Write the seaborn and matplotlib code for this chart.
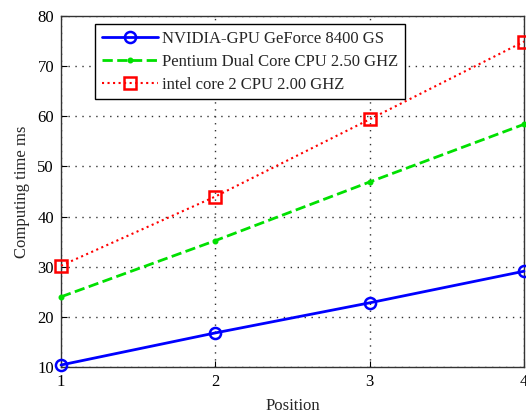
import pandas as pd
import seaborn as sns
import matplotlib.pyplot as plt

# valores
posicion = [1, 2, 3, 4]
gpu_nvidia = [10.4, 16.8, 22.8, 29.1]
pentium_dual = [24.0, 35.2, 46.9, 58.4]
intel_core2 = [30.2, 44.0, 59.4, 74.9]

etiquetas = [
    "NVIDIA-GPU GeForce 8400 GS",
    "Pentium Dual Core CPU 2.50 GHZ",
    "intel core 2 CPU 2.00 GHZ",
]

df = pd.DataFrame({
    "Position": posicion * 3,
    "tiempo": gpu_nvidia + pentium_dual + intel_core2,
    "serie": [etiquetas[0]] * 4 + [etiquetas[1]] * 4 + [etiquetas[2]] * 4,
})

sns.set_style("ticks")
plt.rcParams["font.family"] = ["Liberation Serif", "DejaVu Serif"]

fig = plt.figure(figsize=(5.26, 4.15), dpi=100)
ax = fig.add_axes([61 / 526, 1 - 367 / 415, 463 / 526, 351 / 415])

estilos = {
    etiquetas[0]: dict(color="#0000ff", linestyle="-", marker="o", markersize=8, linewidth=2),
    etiquetas[1]: dict(color="#00e000", linestyle="--", marker=".", markersize=5, linewidth=2),
    etiquetas[2]: dict(color="#ff0000", linestyle=":", marker="s", markersize=8, linewidth=1.5),
}

for nombre in etiquetas:
    st = estilos[nombre]
    sns.lineplot(data=df[df["serie"] == nombre], x="Position", y="tiempo", ax=ax,
                 color=st["color"], linestyle=st["linestyle"], linewidth=st["linewidth"],
                 marker=st["marker"], markersize=st["markersize"],
                 markerfacecolor="none" if st["marker"] != "." else st["color"],
                 markeredgecolor=st["color"], markeredgewidth=1.8, label=nombre,
                 clip_on=False, zorder=3)

ax.set_xlim(1, 4)
ax.set_ylim(10, 80)
ax.set_xticks([1, 2, 3, 4])
ax.set_yticks(range(10, 81, 10))
ax.grid(True, linestyle=(0, (1, 4)), color="#333333", linewidth=1)
ax.tick_params(direction="in", labelsize=12, colors="black", length=4, pad=5)
for s in ax.spines.values():
    s.set_visible(True)
    s.set_color("#333333")
    s.set_linewidth(1)
ax.set_xlabel("Position", fontsize=12, labelpad=6)
ax.set_ylabel("Computing time ms", fontsize=12, labelpad=5)

leg = ax.legend(loc="upper left", bbox_to_anchor=(34 / 463, 1 - 8 / 351), borderaxespad=0,
                fontsize=12, frameon=True, fancybox=False, edgecolor="black", framealpha=1,
                handlelength=3.4, handletextpad=0.25, borderpad=0.4, labelspacing=0.42)
leg.get_frame().set_linewidth(1)

fig.savefig("out.png", dpi=100)
